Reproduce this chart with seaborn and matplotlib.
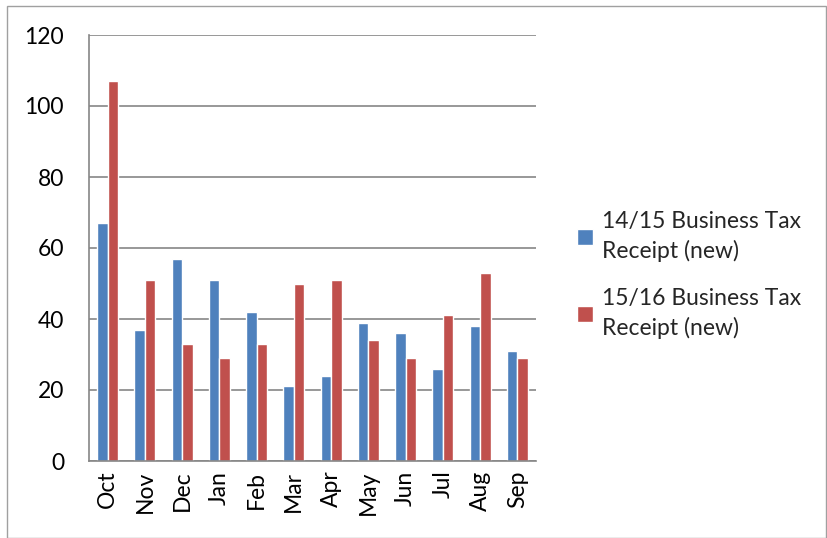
import numpy as np
import pandas as pd
import seaborn as sns
import matplotlib.pyplot as plt
from matplotlib.patches import Rectangle

months = ["Oct", "Nov", "Dec", "Jan", "Feb", "Mar", "Apr", "May", "Jun", "Jul", "Aug", "Sep"]
receipts_1415 = [67, 37, 57, 51, 42, 21, 24, 39, 36, 26, 38, 31]
receipts_1516 = [107, 51, 33, 29, 33, 50, 51, 34, 29, 41, 53, 29]
series_names = ["14/15 Business Tax\nReceipt (new)", "15/16 Business Tax\nReceipt (new)"]
colors = ["#4F81BD", "#C0504D"]

df = pd.DataFrame({
    "month": months * 2,
    "value": receipts_1415 + receipts_1516,
    "series": [series_names[0]] * len(months) + [series_names[1]] * len(months),
})

sns.set_style("white")
plt.rcParams["font.family"] = ["Lato", "DejaVu Sans"]
fs = 16.5

fig = plt.figure(figsize=(8.27, 5.38), dpi=100)
ax = fig.add_axes([89 / 827, 1 - 461 / 538, (536 - 89) / 827, (461 - 35) / 538])

sns.barplot(data=df, x="month", y="value", hue="series", palette=colors,
            width=0.57, ax=ax, saturation=1, legend=True)

ax.set_ylim(0, 120)
ax.set_yticks(np.arange(0, 121, 20))
ax.set_xlim(-0.5, len(months) - 0.5)
ax.yaxis.grid(True, color="#868686", linewidth=1.2)
ax.set_axisbelow(True)
ax.set_xlabel("")
ax.set_ylabel("")

for side in ["top", "right"]:
    ax.spines[side].set_visible(False)
for side in ["left", "bottom"]:
    ax.spines[side].set_color("#868686")
    ax.spines[side].set_linewidth(1.2)

ax.set_xticks(np.arange(len(months)))
ax.set_xticklabels(months, rotation=90, fontsize=fs, color="black")
ax.set_xticks(np.arange(-0.5, len(months)), minor=True)
ax.tick_params(axis="x", which="major", length=0, pad=7)
ax.tick_params(axis="x", which="minor", length=6, width=1.2, color="#868686", direction="out")
ax.tick_params(axis="y", length=6, width=1.2, color="#868686", direction="out",
               labelsize=fs, labelcolor="black", pad=12)

handles, labels = ax.get_legend_handles_labels()
leg = ax.legend(handles, labels, loc="center left", bbox_to_anchor=(556 / 827, 1 - 275 / 538),
                bbox_transform=fig.transFigure, frameon=False, fontsize=fs,
                handlelength=0.7, handleheight=0.7, handletextpad=0.4, labelspacing=1.1)
for t in leg.get_texts():
    t.set_linespacing(1.45)

fig.patches.append(Rectangle((7 / 827, 0), 1 - 8 / 827, 1 - 6 / 538, transform=fig.transFigure,
                             fill=False, edgecolor="#A0A0A0", linewidth=1))

fig.savefig("out.png", dpi=100)
